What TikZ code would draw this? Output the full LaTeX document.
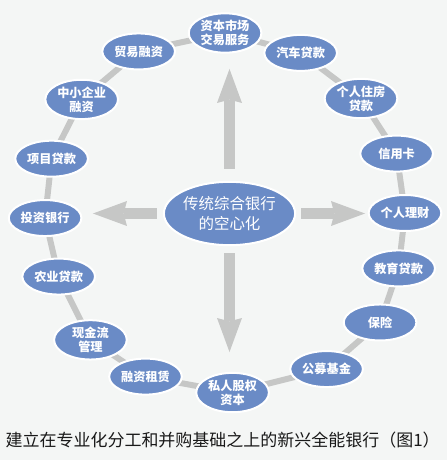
\documentclass[tikz,border=0pt]{standalone}
\usepackage{fontspec}
\setmainfont{Noto Sans CJK SC}
\usepackage{tikz}
\usetikzlibrary{arrows.meta,backgrounds,shapes.geometric,positioning}
\definecolor{pagebg}{HTML}{F4F6F5}
\definecolor{nodeblue}{HTML}{6A8BC6}
\definecolor{ringgray}{HTML}{C6C7C6}

\tikzset{
  biz/.style={ellipse,fill=nodeblue,draw=white,line width=0.06cm,text=white,
    font=\fontsize{10.4}{12}\selectfont\bfseries,align=center,inner sep=0pt,
    minimum width=2.18cm,minimum height=1.08cm},
  biztwo/.style={biz,minimum height=1.18cm},
  hubnode/.style={ellipse,fill=nodeblue,draw=white,line width=0.06cm,text=white,
    font=\fontsize{13.2}{17}\selectfont,align=center,inner sep=0pt,
    minimum width=3.63cm,minimum height=1.9cm},
  ringline/.style={draw=ringgray,line width=0.18cm},
  bigarrow/.style={draw=ringgray,line width=0.33cm,
    -{Stealth[length=1.02cm,width=0.75cm,inset=0.1cm,line width=0pt]}},
  caption/.style={font=\fontsize{14.5}{17}\selectfont,text=black!90}
}

\begin{document}
\begin{tikzpicture}
\useasboundingbox (-6.78,-7.41) rectangle (6.63,6.39);
\begin{scope}[on background layer]
\fill[pagebg] (-6.78,-7.41) rectangle (6.63,6.39);
\end{scope}

% centre
\node[hubnode] (hub) at (0.105,-0.015) {传统综合银行\\的空心化};

% ring of businesses
\node[biztwo] (capital) at (90.3:5.40cm) {资本市场\\交易服务};
\node[biz] (auto) at (65.0:5.30cm) {汽车贷款};
\node[biztwo] (house) at (40.3:5.31cm) {个人住房\\贷款};
\node[biz] (card) at (19.2:5.42cm) {信用卡};
\node[biz] (wealth) at (0:5.37cm) {个人理财};
\node[biz] (edu) at (-17.8:5.44cm) {教育贷款};
\node[biz] (insure) at (-35.4:5.67cm) {保险};
\node[biz] (fund) at (-57.2:5.57cm) {公募基金};
\node[biztwo] (equity) at (-87.9:5.39cm) {私人股权\\资本};
\node[biz] (lease) at (-116.2:5.47cm) {融资租赁};
\node[biztwo] (cash) at (-136.9:5.57cm) {现金流\\管理};
\node[biz] (farm) at (-159.2:5.37cm) {农业贷款};
\node[biz] (invest) at (181.6:5.43cm) {投资银行};
\node[biz] (project) at (162.7:5.48cm) {项目贷款};
\node[biztwo] (sme) at (141.8:5.51cm) {中小企业\\融资};
\node[biz] (trade) at (118.4:5.51cm) {贸易融资};

\begin{scope}[on background layer]
\draw[ringline] (capital.center) -- (auto.center) -- (house.center) -- (card.center)
  -- (wealth.center) -- (edu.center) -- (insure.center) -- (fund.center)
  -- (equity.center) -- (lease.center) -- (cash.center) -- (farm.center)
  -- (invest.center) -- (project.center) -- (sme.center) -- (trade.center) -- cycle;
\end{scope}

% arrows out of the centre
\coordinate (uptip) at (0.105,4.32);
\coordinate (downtip) at (0.105,-4.17);
\coordinate (lefttip) at (-3.99,-0.015);
\coordinate (righttip) at (4.17,-0.015);
\draw[bigarrow,shorten <=0.36cm] (hub) -- (uptip);
\draw[bigarrow,shorten <=0.21cm] (hub) -- (downtip);
\draw[bigarrow,shorten <=0.18cm] (hub) -- (lefttip);
\draw[bigarrow,shorten <=0.15cm] (hub) -- (righttip);

\node[caption] (title) at (-0.1,-6.81) {建立在专业化分工和并购基础之上的新兴全能银行（图1）};
\end{tikzpicture}
\end{document}
